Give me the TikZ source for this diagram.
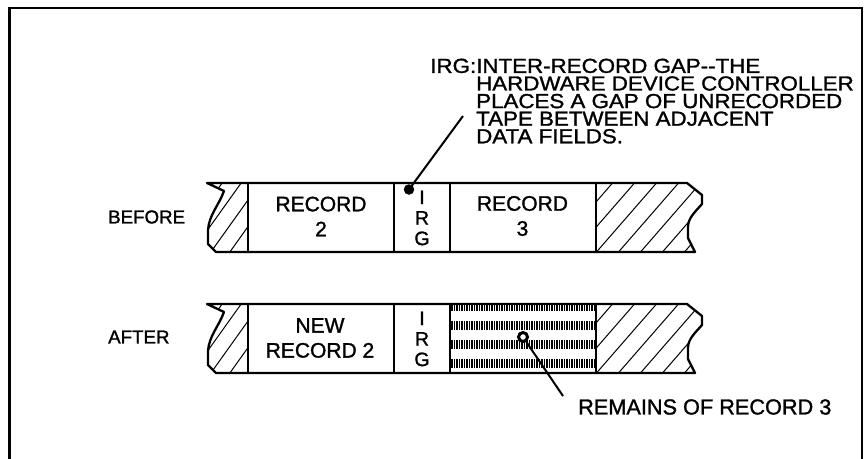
\documentclass[tikz,border=0pt]{standalone}
\usepackage{fontspec}
\setmainfont{Liberation Sans}
\newfontfamily\lblfont[FakeBold=1.3]{Liberation Sans}
\newfontfamily\annofont[FakeStretch=1.1,FakeBold=1.3]{Liberation Sans}
\begin{document}
\begin{tikzpicture}[x=1pt,y=-1pt,
  frame/.style={line width=2.4pt},
  tape/.style={line width=2.3pt,line join=round},
  divider/.style={line width=2pt},
  hatch/.style={line width=1pt},
  tick/.style={line width=1.2pt},
  leader/.style={line width=2pt},
  side/.style={font=\lblfont\fontsize{18.7}{20}\selectfont,inner sep=0pt,anchor=west},
  rec/.style={font=\lblfont\fontsize{21}{25}\selectfont,inner sep=0pt,align=center},
  irg/.style={font=\lblfont\fontsize{19.5}{20.5}\selectfont,inner sep=0pt,align=center},
  anno/.style={font=\annofont\fontsize{20.3}{17.6}\selectfont,inner sep=0pt,align=left,anchor=north west},
  remains/.style={font=\lblfont\fontsize{21.7}{24}\selectfont,inner sep=0pt,anchor=west}]
\useasboundingbox (0,0) rectangle (864,458);
% outer frame
\draw[frame] (9.5,459) -- (9.5,8) -- (862,8) -- (862,459);

\foreach \dy in {0,121}{
  \begin{scope}[yshift=-\dy pt]
    % left hatched stub
    \begin{scope}
      \clip (207,183) -- (224,191) .. controls (219,205) and (209,215) .. (208,230) -- (208,244) -- (216,252) -- (248,252) -- (248,183) -- cycle;
      \foreach \k in {0,...,6}
        \draw[hatch] ({170+\k*19},256) -- ++(55,-77);
    \end{scope}
    % right hatched stub
    \begin{scope}
      \clip (596,183) -- (687,183) -- (702,195) -- (702,204) .. controls (695,212) and (688,218) .. (688,227) -- (688,238) -- (695,252) -- (596,252) -- cycle;
      \foreach \k in {0,...,8}
        \draw[hatch] ({527+\k*22},256) -- ++(67,-77);
    \end{scope}
    % outline
    \draw[tape] (216,252) -- (208,244) -- (208,230) .. controls (209,215) and (219,205) .. (224,191) -- (207,183) -- (687,183) -- (702,195) -- (702,204) .. controls (695,212) and (688,218) .. (688,227) -- (688,238) -- (695,252) -- cycle;
    \foreach \xx in {248,394,450,596}
      \draw[divider] (\xx,183) -- (\xx,252);
  \end{scope}
}

% remains of record 3 (vertical tick bands)
\foreach \yy/\hh in {305/6,321/9,340/9,359/9}
  \foreach \xx in {452,454.5,...,594.5}
    \draw[tick] (\xx,\yy) -- ++(0,\hh);

% labels
\node[side] (before) at (108,217) {BEFORE};
\node[side] (after) at (108,337) {AFTER};
\node[rec] (rec2) at (321,216.5) {RECORD\\2};
\node[irg] (irg1) at (422,218) {I\\R\\G};
\node[rec] (rec3) at (522.5,216) {RECORD\\3};
\node[rec] (newrec2) at (320,338) {NEW\\RECORD 2};
\node[irg] (irg2) at (422,339) {I\\R\\G};

% annotation
\node[anno] (note) at (476,58.5) {\llap{IRG:}INTER-RECORD GAP--THE\\HARDWARE DEVICE CONTROLLER\\PLACES A GAP OF UNRECORDED\\TAPE BETWEEN ADJACENT\\DATA FIELDS.};
\coordinate (notetip) at (463,116);
\node[circle,fill=black,inner sep=0pt,minimum size=10.5pt] (irgdot) at (409,189.5) {};
\draw[leader] (irgdot.center) -- (notetip);

\node[remains] (remtext) at (578,407) {REMAINS OF RECORD 3};
\coordinate (remtip) at (563,396);
\node[circle,draw=black,line width=3pt,fill=white,inner sep=0pt,minimum size=9pt] (remdot) at (523,337) {};
\draw[leader] (remdot) -- (remtip);
\end{tikzpicture}
\end{document}
